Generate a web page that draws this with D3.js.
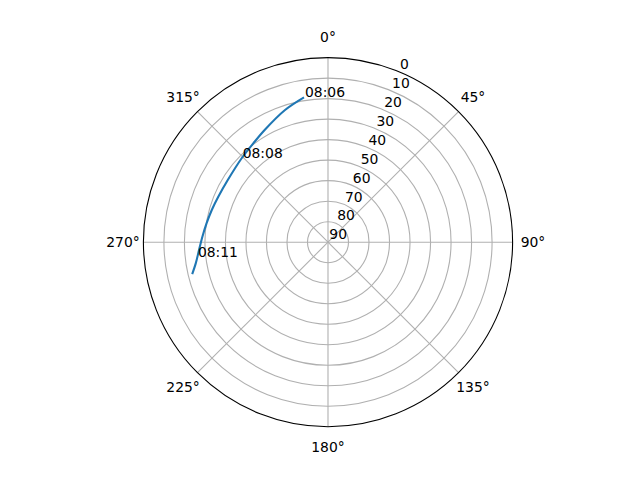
<!DOCTYPE html>
<html>
<head>
<meta charset="utf-8">
<script src="https://cdn.jsdelivr.net/npm/d3@7"></script>
<style>
  html, body { margin: 0; padding: 0; background: #fff; }
  text { font-family: "DejaVu Sans", sans-serif; font-size: 13.9px; fill: #000; }
</style>
</head>
<body>
<svg id="chart" width="640" height="480"></svg>
<script>
// Satellite track (azimuth in degrees clockwise from north, elevation in degrees)
const azimuth   = [350.6, 342.0, 330.7, 322.9, 314.2, 301.8, 292.5, 285.5, 278.9, 272.5, 266.5, 260.9, 256.8];
const elevation = [18.4, 22.2, 27.1, 29.6, 31.3, 32.5, 32.1, 31.2, 30.1, 28.7, 27.0, 24.7, 22.0];

// Time annotations
const labelTimes = ["08:06", "08:08", "08:11"];
const labelAz    = [350.6, 314.2, 263.7];
const labelEl    = [18.4, 31.3, 25.7];

// Tick values
const thetaTicks  = [0, 45, 90, 135, 180, 225, 270, 315];
const thetaLabels = ["0°", "45°", "90°", "135°", "180°", "225°", "270°", "315°"];
const rTicks      = [0, 10, 20, 30, 40, 50, 60, 70, 80, 90];
const rLabels     = ["0", "10", "20", "30", "40", "50", "60", "70", "80", "90"];

const cx = 328, cy = 242.2, R = 184.6;
const svg = d3.select("#chart");
svg.append("rect").attr("width", 640).attr("height", 480).attr("fill", "#fff");

const rScale = d3.scaleLinear().domain([90, 0]).range([0, R]);
const aScale = d3.scaleLinear().domain([0, 360]).range([0, 2 * Math.PI]);

const g = svg.append("g").attr("transform", `translate(${cx},${cy})`);
const px = (az, el) => [rScale(el) * Math.sin(aScale(az)), -rScale(el) * Math.cos(aScale(az))];

// Grid rings
g.selectAll("circle.ring").data(rTicks.filter(t => t > 0 && t < 90)).enter()
  .append("circle").attr("class", "ring")
  .attr("r", d => rScale(d))
  .attr("fill", "none").attr("stroke", "#b0b0b0").attr("stroke-width", 1.1);

// Spokes
g.selectAll("line.spoke").data(thetaTicks).enter()
  .append("line").attr("class", "spoke")
  .attr("x1", 0).attr("y1", 0)
  .attr("x2", d => px(d, 0)[0]).attr("y2", d => px(d, 0)[1])
  .attr("stroke", "#b0b0b0").attr("stroke-width", 1.1);

// Outer spine
g.append("circle").attr("r", rScale(0))
  .attr("fill", "none").attr("stroke", "#000").attr("stroke-width", 1.1);

// Track
const line = d3.lineRadial()
  .angle((d, i) => aScale(azimuth[i]))
  .radius((d, i) => rScale(elevation[i]))
  .curve(d3.curveCatmullRom);
g.append("path").datum(azimuth)
  .attr("d", line)
  .attr("fill", "none").attr("stroke", "#1f77b4").attr("stroke-width", 2.1)
  .attr("stroke-linecap", "butt");

// Theta labels
g.selectAll("text.theta").data(thetaTicks).enter()
  .append("text").attr("class", "theta")
  .attr("x", d => (R + 20.4) * Math.sin(aScale(d)))
  .attr("y", d => -(R + 20.4) * Math.cos(aScale(d)) + 5)
  .attr("text-anchor", "middle")
  .text((d, i) => thetaLabels[i]);

// Radial labels
g.selectAll("text.rlab").data(rTicks).enter()
  .append("text").attr("class", "rlab")
  .attr("x", d => px(22.5, d)[0] + 1.3)
  .attr("y", d => px(22.5, d)[1] - 2.8)
  .attr("text-anchor", "start")
  .text((d, i) => rLabels[i]);

// Time annotations
g.selectAll("text.tlab").data(labelTimes).enter()
  .append("text").attr("class", "tlab")
  .attr("x", (d, i) => px(labelAz[i], labelEl[i])[0] + 1)
  .attr("y", (d, i) => px(labelAz[i], labelEl[i])[1])
  .text(d => d);
</script>
</body>
</html>
